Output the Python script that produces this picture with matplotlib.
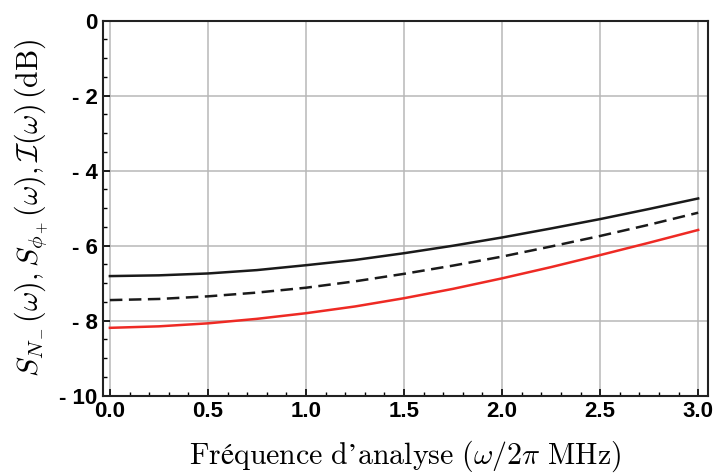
import matplotlib
matplotlib.use("Agg")
import matplotlib.pyplot as plt
from matplotlib.ticker import MultipleLocator, FuncFormatter

plt.rcParams["mathtext.fontset"] = "cm"

# Frequency (MHz) and the three noise spectra (dB)
freq = [0.0, 0.25, 0.5, 0.75, 1.0, 1.25, 1.5, 1.75, 2.0, 2.25, 2.5, 2.75, 3.0]
s_nminus = [-6.81, -6.79, -6.74, -6.65, -6.52, -6.38, -6.20, -6.00, -5.78, -5.54, -5.29, -5.02, -4.74]
s_phiplus = [-7.45, -7.42, -7.35, -7.25, -7.12, -6.95, -6.75, -6.53, -6.29, -6.02, -5.74, -5.44, -5.12]
inter = [-8.19, -8.15, -8.07, -7.95, -7.80, -7.62, -7.40, -7.15, -6.87, -6.57, -6.25, -5.92, -5.58]

xticks = [0.0, 0.5, 1.0, 1.5, 2.0, 2.5, 3.0]
yticks = [0, -2, -4, -6, -8, -10]


def main():
    fig = plt.figure(figsize=(7.17, 4.73), dpi=100)
    ax = fig.add_axes([0.1437, 0.1634, 0.8437, 0.7928])

    ax.plot(freq, s_nminus, color="#1a1a1a", lw=1.8)
    ax.plot(freq, s_phiplus, color="#1a1a1a", lw=1.8, dashes=(5, 2.6))
    ax.plot(freq, inter, color="#ee2a24", lw=1.8)

    ax.set_xlim(-0.035, 3.05)
    ax.set_ylim(-10, 0)
    ax.set_xticks(xticks)
    ax.set_yticks(yticks)
    ax.xaxis.set_minor_locator(MultipleLocator(0.1))
    ax.yaxis.set_minor_locator(MultipleLocator(0.5))
    ax.xaxis.set_major_formatter(FuncFormatter(lambda v, p: f"{v:.1f}"))
    ax.yaxis.set_major_formatter(
        FuncFormatter(lambda v, p: "0" if v == 0 else f"- {abs(int(round(v)))}")
    )

    ax.grid(True, which="major", color="#b8b8b8", lw=1.1)
    ax.set_axisbelow(True)
    ax.tick_params(which="both", direction="in", top=False, right=False)
    ax.tick_params(which="major", length=5, width=1.2, pad=4)
    ax.tick_params(which="minor", length=3, width=1.0)
    for lab in ax.get_xticklabels() + ax.get_yticklabels():
        lab.set_fontfamily("Liberation Sans")
        lab.set_fontweight("bold")
        lab.set_fontsize(16)
    for sp in ax.spines.values():
        sp.set_linewidth(1.5)
        sp.set_color("#222222")

    ax.set_xlabel("$\\mathrm{Fr\u00e9quence\\ d\u2019analyse}\\ (\\omega/2\\pi\\ \\mathrm{MHz})$",
                  fontsize=21.5, labelpad=12)
    ax.set_ylabel(r"$S_{N_-}(\omega), S_{\phi_+}(\omega), \mathcal{I}(\omega)\,(\mathrm{dB})$",
                  fontsize=21.5, labelpad=6)

    fig.savefig("out.png", dpi=100)
    plt.close(fig)


if __name__ == "__main__":
    main()
